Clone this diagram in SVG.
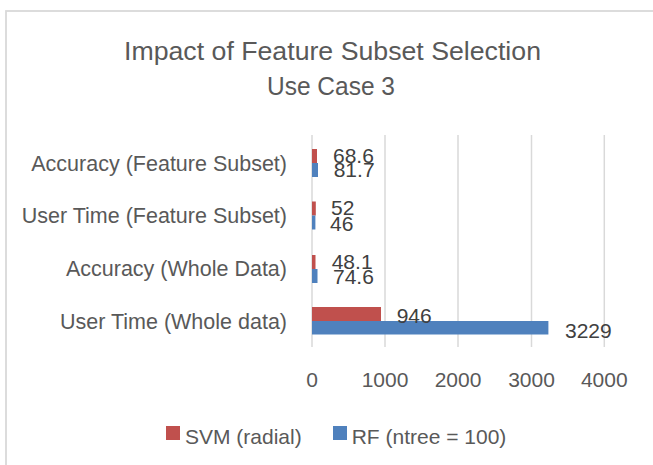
<svg xmlns="http://www.w3.org/2000/svg" width="653" height="465" viewBox="0 0 653 465">
<style>
text{font-family:"Liberation Sans",Arial,sans-serif;}
.title{font-size:26px;fill:#595959;text-anchor:middle;}
.cat{font-size:21.5px;fill:#595959;text-anchor:end;}
.tick{font-size:21px;fill:#595959;text-anchor:middle;}
.dl{font-size:21px;fill:#404040;}
.leg{font-size:21px;fill:#595959;}
.grid{stroke:#d9d9d9;stroke-width:1.5;fill:none;}
.svm{fill:#C0504D;}
.rf{fill:#4F81BD;}
</style>
<rect x="6" y="11" width="660" height="470" fill="#ffffff" stroke="#d9d9d9" stroke-width="1.8"/>
<g id="title">
<text class="title" x="332.5" y="60" textLength="417" lengthAdjust="spacingAndGlyphs">Impact of Feature Subset Selection</text>
<text class="title" x="331" y="94.5" textLength="128" lengthAdjust="spacingAndGlyphs">Use Case 3</text>
</g>
<g id="gridlines">
<line class="grid" x1="312" y1="135" x2="312" y2="347"/>
<line class="grid" x1="385" y1="135" x2="385" y2="347"/>
<line class="grid" x1="458" y1="135" x2="458" y2="347"/>
<line class="grid" x1="531.5" y1="135" x2="531.5" y2="347"/>
<line class="grid" x1="604.3" y1="135" x2="604.3" y2="347"/>
</g>
<g id="x-axis-labels">
<text class="tick" x="312" y="387">0</text>
<text class="tick" x="385" y="387">1000</text>
<text class="tick" x="458" y="387">2000</text>
<text class="tick" x="531.5" y="387">3000</text>
<text class="tick" x="604.3" y="387">4000</text>
</g>
<g id="category-labels">
<text class="cat" x="287" y="170.5">Accuracy (Feature Subset)</text>
<text class="cat" x="287" y="223.3">User Time (Feature Subset)</text>
<text class="cat" x="287" y="276.1">Accuracy (Whole Data)</text>
<text class="cat" x="287" y="328.9">User Time (Whole data)</text>
</g>
<g id="bars-svm">
<rect class="svm" x="312" y="149" width="5" height="14"/>
<rect class="svm" x="312" y="201.5" width="3.8" height="14"/>
<rect class="svm" x="312" y="255" width="3.5" height="14"/>
<rect class="svm" x="312" y="307" width="69" height="14"/>
</g>
<g id="bars-rf">
<rect class="rf" x="312" y="163" width="6" height="14"/>
<rect class="rf" x="312" y="215.5" width="3.4" height="14"/>
<rect class="rf" x="312" y="269" width="5.5" height="14"/>
<rect class="rf" x="312" y="321" width="236.4" height="13.5"/>
</g>
<g id="data-labels">
<text class="dl" x="333" y="163.3">68.6</text>
<text class="dl" x="333.7" y="177.3">81.7</text>
<text class="dl" x="331" y="215">52</text>
<text class="dl" x="330" y="230.7">46</text>
<text class="dl" x="331.7" y="269.3">48.1</text>
<text class="dl" x="333" y="284">74.6</text>
<text class="dl" x="396.7" y="322.7">946</text>
<text class="dl" x="565" y="337.7">3229</text>
</g>
<g id="legend">
<rect class="svm" x="166" y="426" width="14" height="14"/>
<text class="leg" x="185" y="443.5">SVM (radial)</text>
<rect class="rf" x="333" y="426" width="14" height="14"/>
<text class="leg" x="351.7" y="443.5">RF (ntree = 100)</text>
</g>
</svg>
